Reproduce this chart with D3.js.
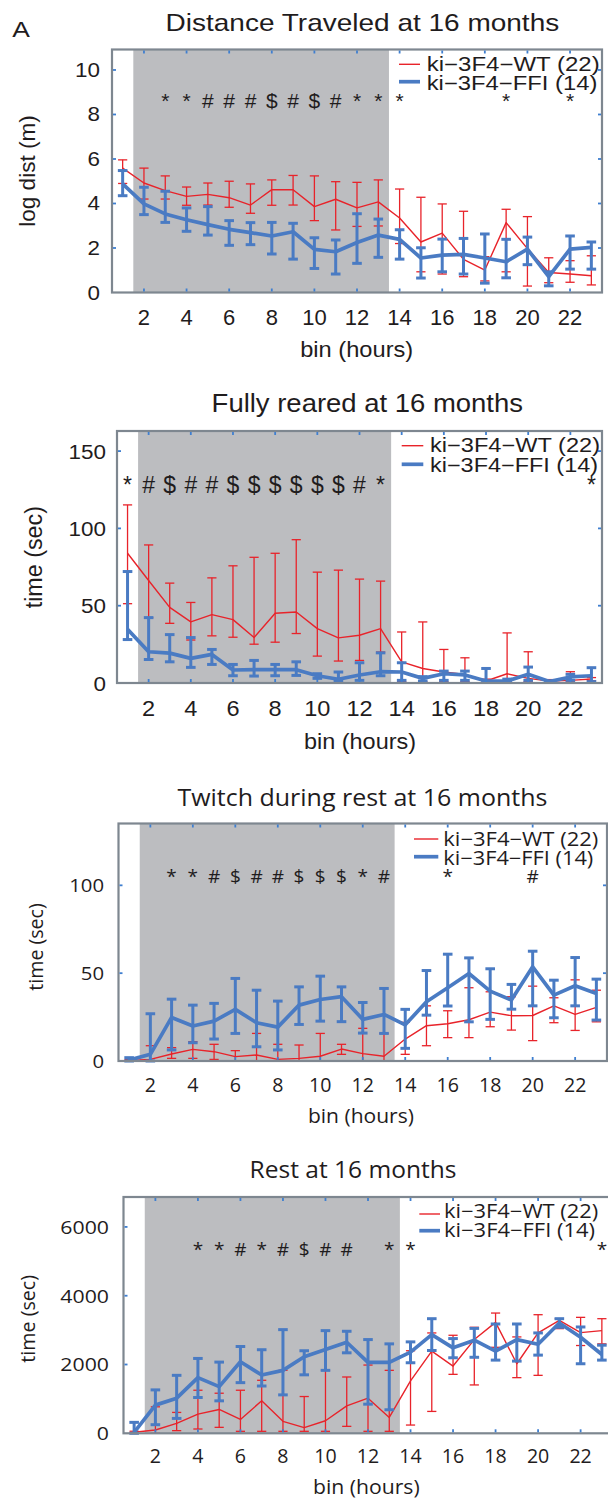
<!DOCTYPE html>
<html>
<head>
<meta charset="utf-8">
<script src="https://cdn.jsdelivr.net/npm/d3@7/dist/d3.min.js"></script>
<style>
  body { margin: 0; background: #fff; }
</style>
</head>
<body>
<div id="chart"></div>
<script>
// hourly bins shown on every panel
const hours = [1, 2, 3, 4, 5, 6, 7, 8, 9, 10, 11, 12, 13, 14, 15, 16, 17, 18, 19, 20, 21, 22, 23];
const hourTicks = [2, 4, 6, 8, 10, 12, 14, 16, 18, 20, 22];
const darkPhase = [1.5, 13.5];
const legendNames = ['ki\u22123F4\u2212WT (22)', 'ki\u22123F4\u2212FFI (14)'];

// Distance traveled
const distWt    = [5.59, 4.92, 4.58, 4.32, 4.41, 4.26, 3.93, 4.62, 4.62, 3.86, 4.19, 3.80, 4.07, 3.35, 2.27, 2.67, 1.49, 1.01, 3.14, 1.97, 0.90, 0.83, 0.75];
const distWtHi  = [5.96, 5.59, 5.24, 4.74, 4.92, 5.00, 4.88, 5.06, 5.26, 5.24, 4.98, 4.95, 5.06, 4.65, 4.28, 3.98, 3.65, 1.61, 3.74, 3.41, 1.56, 1.43, 1.65];
const distWtLo  = [4.90, 4.20, 4.20, 3.92, 3.93, 3.83, 3.56, 3.92, 3.93, 3.23, 2.81, 2.97, 2.99, 2.20, 0.93, 0.83, 0.71, 0.52, 0.93, 0.29, 0.44, 0.46, 0.34];
const distFfi   = [4.88, 3.98, 3.53, 3.27, 3.05, 2.84, 2.69, 2.54, 2.73, 1.94, 1.83, 2.25, 2.58, 2.39, 1.55, 1.68, 1.71, 1.55, 1.38, 1.95, 0.71, 1.95, 2.03];
const distFfiHi = [5.48, 4.73, 4.55, 3.80, 3.86, 3.23, 3.14, 3.15, 3.11, 2.46, 2.36, 3.54, 3.30, 2.82, 2.01, 2.40, 2.43, 2.63, 2.39, 2.49, 0.93, 2.54, 2.27];
const distFfiLo = [4.35, 3.50, 3.15, 2.75, 2.58, 2.12, 2.15, 1.73, 1.50, 1.08, 0.83, 1.31, 1.58, 1.50, 0.65, 0.93, 0.83, 0.42, 0.66, 1.25, 0.30, 1.05, 1.05];
const distTicks = [0, 2, 4, 6, 8, 10];
const distMarkX   = [3, 4, 5, 6, 7, 8, 9, 10, 11, 12, 13, 14, 19, 22];
const distMarkSym = ['*', '*', '#', '#', '#', '$', '#', '$', '#', '*', '*', '*', '*', '*'];

// Fully reared
const rearWt    = [83.9, 66.3, 48.9, 39.5, 44.2, 41.0, 29.4, 45.1, 45.9, 35.2, 29.2, 30.9, 35.2, 13.7, 9.4, 7.1, 5.6, 1.3, 6.0, 3.0, 1.3, 1.7, 2.6];
const rearWtHi  = [115.2, 89.3, 64.6, 52.1, 68.0, 75.8, 81.3, 83.9, 92.7, 71.7, 73.0, 67.2, 65.9, 33.0, 39.5, 21.7, 16.3, 2.5, 32.4, 20.2, 2.2, 7.3, 3.5];
const rearWtLo  = [51.3, 42.3, 38.6, 27.8, 30.5, 29.6, 25.1, 26.4, 32.0, 17.4, 14.2, 14.6, 20.0, 1.0, 0.9, 0.9, 0.9, 0.5, 0.9, 0.9, 0.5, 0.9, 1.5];
const rearFfi   = [34.8, 20.2, 19.3, 15.9, 18.5, 8.4, 8.6, 8.6, 8.6, 4.7, 2.4, 5.2, 7.3, 7.1, 3.0, 6.0, 5.2, 1.3, 1.3, 5.6, 0.9, 3.9, 4.7];
const rearFfiHi = [72.1, 42.3, 31.3, 29.4, 21.7, 12.0, 14.6, 12.0, 13.7, 6.0, 7.1, 13.1, 19.5, 13.1, 4.1, 7.7, 7.7, 9.4, 2.5, 10.3, 1.3, 5.6, 9.9];
const rearFfiLo = [28.1, 15.2, 13.7, 10.1, 12.0, 4.7, 4.5, 4.7, 4.9, 3.0, 1.3, 1.7, 4.7, 1.7, 1.3, 1.7, 1.7, 0.9, 0.9, 1.7, 0.5, 1.7, 0.9];
const rearTicks = [0, 50, 100, 150];
const rearMarkX   = [1, 2, 3, 4, 5, 6, 7, 8, 9, 10, 11, 12, 13, 23];
const rearMarkSym = ['*', '#', '$', '#', '#', '$', '$', '$', '$', '$', '$', '#', '*', '*'];

// Twitch during rest
const twitchWt    = [0.3, 0.9, 4.0, 6.6, 5.3, 2.5, 3.4, 0.9, 1.5, 2.7, 6.8, 4.2, 2.7, 12.5, 20.1, 21.2, 23.5, 27.8, 25.8, 25.9, 31.4, 26.5, 30.5];
const twitchWtHi  = [0.8, 8.7, 7.6, 11.0, 9.5, 5.9, 15.7, 9.5, 9.1, 15.7, 9.5, 18.6, 15.7, 22.0, 31.4, 28.6, 41.7, 39.4, 36.6, 42.6, 36.0, 46.2, 40.3];
const twitchWtLo  = [0, 0, 1.5, 1.5, 0.9, 0, 0, 0, 0, 0, 3.8, 0, 0, 3.8, 8.7, 13.3, 13.3, 19.5, 17.6, 11.6, 21.8, 17.4, 22.3];
const twitchFfi   = [0.5, 3.8, 24.8, 19.9, 22.7, 29.4, 21.8, 19.3, 31.8, 35.0, 36.6, 23.7, 26.5, 20.6, 33.7, 41.7, 49.8, 39.8, 34.7, 53.6, 37.5, 42.8, 38.4];
const twitchFfiHi = [1.9, 26.9, 35.2, 31.8, 32.8, 47.0, 40.3, 34.1, 42.2, 48.3, 42.2, 33.3, 41.3, 29.4, 51.5, 60.8, 58.7, 52.5, 43.6, 62.5, 46.0, 58.9, 46.6];
const twitchFfiLo = [0, 0, 6.3, 10.4, 12.5, 15.7, 8.1, 6.3, 20.8, 22.7, 22.4, 15.9, 15.7, 7.2, 26.1, 31.3, 22.3, 23.7, 29.5, 31.4, 24.6, 31.4, 23.3];
const twitchTicks = [0, 50, 100];
const twitchMarkX   = [3, 4, 5, 6, 7, 8, 9, 10, 11, 12, 13, 16, 20];
const twitchMarkSym = ['*', '*', '#', '$', '#', '#', '$', '$', '$', '*', '#', '*', '#'];

// Rest
const restWt    = [30, 96, 289, 559, 693, 404, 944, 347, 164, 366, 799, 1021, 462, 1522, 2388, 1955, 2725, 3226, 2022, 2918, 3284, 2928, 2985];
const restWtHi  = [60, 770, 607, 1252, 1165, 1252, 1541, 1830, 1069, 1830, 1637, 1984, 1830, 2400, 2918, 2850, 3082, 3496, 2802, 3448, 3332, 3371, 3332];
const restWtLo  = [0, 0, 77, 125, 173, 58, 58, 58, 58, 58, 202, 58, 58, 240, 636, 1714, 1406, 2500, 1618, 1685, 3043, 2552, 2600];
const restFfi   = [30, 819, 1021, 1618, 1358, 2080, 1695, 1830, 2225, 2436, 2648, 2061, 2061, 2359, 2870, 2485, 2706, 2388, 2725, 2590, 3207, 2793, 2292];
const restFfiHi = [318, 1262, 1685, 2176, 2070, 2523, 2430, 3014, 2400, 2985, 2966, 2725, 2600, 2658, 3332, 2754, 3050, 3178, 3178, 2918, 3332, 3091, 2562];
const restFfiLo = [0, 250, 433, 1040, 944, 1473, 1375, 1117, 1700, 1830, 2340, 847, 684, 2051, 2408, 2196, 2210, 2128, 2099, 2273, 3082, 2022, 2128];
const restTicks = [0, 2000, 4000, 6000];
const restMarkX   = [4, 5, 6, 7, 8, 9, 10, 11, 13, 14, 23];
const restMarkSym = ['*', '*', '#', '*', '#', '$', '#', '#', '*', '*', '*'];

const RED = '#e8232a';
const BLUE = '#4a7bc3';
const INK = '#1f1c1d';
const ARIAL = "'Liberation Sans', Arial, sans-serif";
const MYRIAD = "'Open Sans', 'Noto Sans', sans-serif";

const width = 608, height = 1500;

const svg = d3.select('#chart').append('svg')
  .attr('width', width)
  .attr('height', height)
  .attr('viewBox', `0 0 ${width} ${height}`);

svg.append('rect').attr('width', width).attr('height', height).attr('fill', '#fff');

// text helper: horizontal squeeze/stretch like the source figure
function label(g, x, y, str, o) {
  const t = g.append('text')
    .attr('transform', `translate(${x},${y})` + (o.rotate ? ` rotate(${o.rotate})` : '') + ` scale(${o.sx || 1},1)`)
    .attr('text-anchor', o.anchor || 'middle')
    .attr('font-family', o.font)
    .attr('font-size', o.size)
    .attr('fill', INK)
    .text(str);
  if (o.len) t.attr('textLength', o.len).attr('lengthAdjust', 'spacingAndGlyphs');
  return t;
}

const panels = [
  {
    title: 'Distance Traveled at 16 months', ylabel: 'log dist (m)', font: ARIAL,
    wt: [distWt, distWtLo, distWtHi], ffi: [distFfi, distFfiLo, distFfiHi],
    yTicks: distTicks, yMax: 10.92, markX: distMarkX, markSym: distMarkSym, markY: 8.28,
    box: { l: 112, r: 602, t: 49.5, b: 292.5 },
    titleAt: { x: 362.4, y: 30.7, size: 24.2, len: 393.6 },
    ylabelAt: { x: 35, y: 171, size: 22, len: 111.7 },
    xlabelAt: { x: 356.7, y: 357.3, size: 22, len: 113 },
    xTickAt: { y: 325, size: 22, sx: 1.0 },
    yTickAt: { x: 100, size: 19.5, sx: 1.15, dy: 7 },
    markAt: { size: 21 },
    legend: { x0: 399, x1: 420, tx: 426.7, y: [64.3, 81.7], ty: [71.2, 89.6], size: 19.5, len: [173, 170.7] }
  },
  {
    title: 'Fully reared at 16 months', ylabel: 'time (sec)', font: ARIAL,
    wt: [rearWt, rearWtLo, rearWtHi], ffi: [rearFfi, rearFfiLo, rearFfiHi],
    yTicks: rearTicks, yMax: 163, markX: rearMarkX, markSym: rearMarkSym, markY: 122.7,
    box: { l: 117, r: 602, t: 431, b: 683 },
    titleAt: { x: 367.3, y: 411.7, size: 25.6, len: 311.4 },
    ylabelAt: { x: 42, y: 557.2, size: 23, len: 102.3 },
    xlabelAt: { x: 360, y: 749, size: 22, len: 112 },
    xTickAt: { y: 716, size: 22, sx: 1.07 },
    yTickAt: { x: 106, size: 21, sx: 1.07, dy: 7.5 },
    markAt: { size: 23 },
    legend: { x0: 401.7, x1: 423.3, tx: 430, y: [445.7, 464.3], ty: [451.8, 472], size: 19.5, len: [170, 168] }
  },
  {
    title: 'Twitch during rest at 16 months', ylabel: 'time (sec)', font: MYRIAD,
    wt: [twitchWt, twitchWtLo, twitchWtHi], ffi: [twitchFfi, twitchFfiLo, twitchFfiHi],
    yTicks: twitchTicks, yMax: 135.2, markX: twitchMarkX, markSym: twitchMarkSym, markY: 101.2,
    box: { l: 118.5, r: 607, t: 823.5, b: 1061 },
    titleAt: { x: 362.4, y: 806, size: 23.3, len: 370 },
    ylabelAt: { x: 42.5, y: 947, size: 19.5, len: 87.3 },
    xlabelAt: { x: 360.9, y: 1123.3, size: 20.5, len: 106 },
    xTickAt: { y: 1092.3, size: 19.6, sx: 1.0 },
    yTickAt: { x: 104, size: 19, sx: 1.07, dy: 6.8 },
    markAt: { size: 19 },
    legend: { x0: 414, x1: 438.3, tx: 443.3, y: [839, 856.7], ty: [846.2, 865.3], size: 19.5, len: [155, 150] }
  },
  {
    title: 'Rest at 16 months', ylabel: 'time (sec)', font: MYRIAD,
    wt: [restWt, restWtLo, restWtHi], ffi: [restFfi, restFfiLo, restFfiHi],
    yTicks: restTicks, yMax: 6870, markX: restMarkX, markSym: restMarkSym, markY: 5154,
    box: { l: 123.5, r: 612.5, t: 1197, b: 1433.3 },
    titleAt: { x: 353, y: 1178.3, size: 23.3, len: 207 },
    ylabelAt: { x: 35, y: 1318.8, size: 19.5, len: 87.7 },
    xlabelAt: { x: 366.3, y: 1493.5, size: 19.5, len: 106.7 },
    xTickAt: { y: 1463.3, size: 19.6, sx: 1.0 },
    yTickAt: { x: 109, size: 19, sx: 1.12, dy: 6.8 },
    markAt: { size: 19 },
    legend: { x0: 419.3, x1: 440, tx: 444, y: [1214, 1230.7], ty: [1217.8, 1237], size: 19.5, len: [154.3, 151] }
  }
];

panels.forEach(function(p) {
  const g = svg.append('g');
  const x = d3.scaleLinear().domain([0.5, 23.5]).range([p.box.l, p.box.r]);
  const y = d3.scaleLinear().domain([0, p.yMax]).range([p.box.b, p.box.t]);

  // dark phase shading
  g.append('rect')
    .attr('x', x(darkPhase[0])).attr('y', p.box.t)
    .attr('width', x(darkPhase[1]) - x(darkPhase[0]))
    .attr('height', p.box.b - p.box.t)
    .attr('fill', '#bcbdc0');

  // two genotypes: WT thin red, FFI thick blue
  const series = [
    { vals: p.wt, color: RED, lw: 1.4, ew: 1.3, cap: 4.6 },
    { vals: p.ffi, color: BLUE, lw: 3.7, ew: 3, cap: 4.8 }
  ];
  series.forEach(function(s) {
    const [mean, lo, hi] = s.vals;
    const rows = hours.map((h, i) => ({ h: h, m: mean[i], lo: lo[i], hi: hi[i] }));
    const eb = g.append('g').attr('stroke', s.color).attr('stroke-width', s.ew);
    eb.selectAll('.bar').data(rows).enter().append('line')
      .attr('x1', d => x(d.h)).attr('x2', d => x(d.h))
      .attr('y1', d => y(d.lo)).attr('y2', d => y(d.hi));
    eb.selectAll('.capHi').data(rows).enter().append('line')
      .attr('x1', d => x(d.h) - s.cap).attr('x2', d => x(d.h) + s.cap)
      .attr('y1', d => y(d.hi)).attr('y2', d => y(d.hi));
    eb.selectAll('.capLo').data(rows).enter().append('line')
      .attr('x1', d => x(d.h) - s.cap).attr('x2', d => x(d.h) + s.cap)
      .attr('y1', d => y(d.lo)).attr('y2', d => y(d.lo));
    g.append('path')
      .datum(rows)
      .attr('fill', 'none')
      .attr('stroke', s.color)
      .attr('stroke-width', s.lw)
      .attr('stroke-linejoin', 'round')
      .attr('d', d3.line().x(d => x(d.h)).y(d => y(d.m)));
  });

  // significance symbols
  p.markX.forEach(function(h, i) {
    label(g, x(h), y(p.markY), p.markSym[i], { font: p.font, size: p.markAt.size });
  });

  // axes box
  g.append('rect')
    .attr('x', p.box.l).attr('y', p.box.t)
    .attr('width', p.box.r - p.box.l).attr('height', p.box.b - p.box.t)
    .attr('fill', 'none').attr('stroke', '#7e8790').attr('stroke-width', 2.2);

  // inward ticks, all four sides
  const tk = g.append('g').attr('stroke', '#3f7fd0').attr('stroke-width', 1.8);
  hourTicks.forEach(function(h) {
    tk.append('line').attr('x1', x(h)).attr('x2', x(h)).attr('y1', p.box.t + 1).attr('y2', p.box.t + 4);
    tk.append('line').attr('x1', x(h)).attr('x2', x(h)).attr('y1', p.box.b - 1).attr('y2', p.box.b - 4);
    label(g, x(h), p.xTickAt.y, h, { font: p.font, size: p.xTickAt.size, sx: p.xTickAt.sx });
  });
  p.yTicks.forEach(function(v) {
    if (v > 0) {
      tk.append('line').attr('x1', p.box.l + 1).attr('x2', p.box.l + 4).attr('y1', y(v)).attr('y2', y(v));
      tk.append('line').attr('x1', p.box.r - 1).attr('x2', p.box.r - 4).attr('y1', y(v)).attr('y2', y(v));
    }
    label(g, p.yTickAt.x, y(v) + p.yTickAt.dy, v, { font: p.font, size: p.yTickAt.size, sx: p.yTickAt.sx, anchor: 'end' });
  });

  // titles and axis labels
  label(g, p.titleAt.x, p.titleAt.y, p.title, { font: p.font, size: p.titleAt.size, len: p.titleAt.len });
  label(g, p.ylabelAt.x, p.ylabelAt.y, p.ylabel, { font: p.font, size: p.ylabelAt.size, len: p.ylabelAt.len, rotate: -90 });
  label(g, p.xlabelAt.x, p.xlabelAt.y, 'bin (hours)', { font: p.font, size: p.xlabelAt.size, len: p.xlabelAt.len });

  // legend
  const L = p.legend;
  series.forEach(function(s, i) {
    g.append('line')
      .attr('x1', L.x0).attr('x2', L.x1).attr('y1', L.y[i]).attr('y2', L.y[i])
      .attr('stroke', s.color).attr('stroke-width', s.lw);
    label(g, L.tx, L.ty[i], legendNames[i], { font: p.font, size: L.size, len: L.len[i], anchor: 'start' });
  });
});

// panel letter
label(svg, 21, 36.7, 'A', { font: ARIAL, size: 22, sx: 1.2 });
</script>
</body>
</html>
